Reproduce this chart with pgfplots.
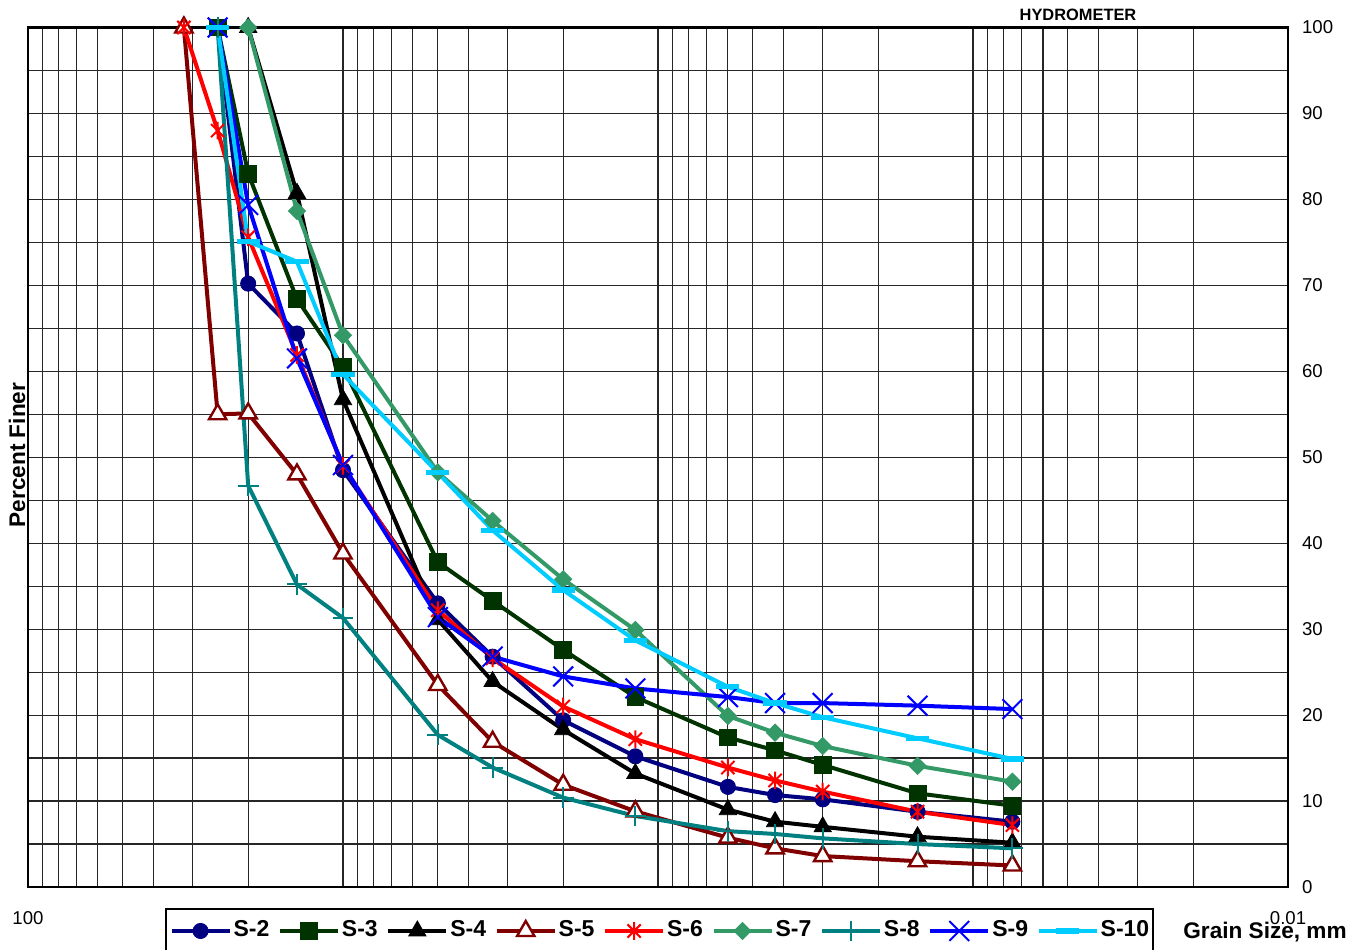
\documentclass[border=0pt]{standalone}
\usepackage{fontspec}
\setmainfont{Liberation Sans}
\usepackage{pgfplots}
\pgfplotsset{compat=1.18}
\definecolor{cA}{HTML}{000080}
\definecolor{cB}{HTML}{003300}
\definecolor{cC}{HTML}{000000}
\definecolor{cD}{HTML}{800000}
\definecolor{cE}{HTML}{FF0000}
\definecolor{cF}{HTML}{339966}
\definecolor{cG}{HTML}{008080}
\definecolor{cH}{HTML}{0000FF}
\definecolor{cI}{HTML}{00CCFF}
\pgfdeclareplotmark{xbar}{%
  \pgfpathmoveto{\pgfqpoint{-.75\pgfplotmarksize}{-.75\pgfplotmarksize}}%
  \pgfpathlineto{\pgfqpoint{.75\pgfplotmarksize}{.75\pgfplotmarksize}}%
  \pgfpathmoveto{\pgfqpoint{-.75\pgfplotmarksize}{.75\pgfplotmarksize}}%
  \pgfpathlineto{\pgfqpoint{.75\pgfplotmarksize}{-.75\pgfplotmarksize}}%
  \pgfpathmoveto{\pgfqpoint{0pt}{-\pgfplotmarksize}}%
  \pgfpathlineto{\pgfqpoint{0pt}{\pgfplotmarksize}}%
  \pgfusepathqstroke}
\pgfdeclareplotmark{sqdiamond*}{%
  \pgfpathmoveto{\pgfqpoint{0pt}{\pgfplotmarksize}}%
  \pgfpathlineto{\pgfqpoint{\pgfplotmarksize}{0pt}}%
  \pgfpathlineto{\pgfqpoint{0pt}{-\pgfplotmarksize}}%
  \pgfpathlineto{\pgfqpoint{-\pgfplotmarksize}{0pt}}%
  \pgfpathclose
  \pgfusepathqfillstroke}
\begin{document}
\begin{tikzpicture}
\begin{axis}[
  at={(14pt,31pt)}, anchor=south west,
  scale only axis, width=630pt, height=429.75pt,
  xmode=log, x dir=reverse, xmin=0.01, xmax=100,
  ymin=0, ymax=100, clip=false,
  xtick={0.01,0.1,1,10,100},
  xticklabels={0.01,{},{},{},100},
  minor xtick={0.02,0.03,0.04,0.05,0.06,0.07,0.08,0.09,0.2,0.3,0.4,0.5,0.6,0.7,0.8,0.9,2,3,4,5,6,7,8,9,20,30,40,50,60,70,80,90},
  ytick={0,10,...,100},
  minor ytick={5,15,...,95},
  grid=both,
  major grid style={black!85, line width=0.6pt},
  minor grid style={black!85, line width=0.6pt},
  major tick length=0pt, minor tick length=0pt,
  axis line style={line width=1.1pt},
  yticklabel pos=right,
  /pgf/number format/assume math mode=true,
  tick label style={font=\fontsize{9.3}{11}\selectfont},
  yticklabel style={anchor=west, xshift=3.5pt},
  xticklabel style={anchor=center, yshift=-15.5pt},
  legend columns=-1,
  legend style={at={(0.1087,-0.0244)}, anchor=north west, draw=black, line width=1pt,
    inner xsep=1.8pt, inner ysep=5.5pt,
    font=\fontsize{11.5}{13}\selectfont\bfseries,
    nodes={inner sep=0pt, text height=8.5pt, text depth=2.5pt},
    /tikz/every odd column/.style={column sep=1pt},
    /tikz/every even column/.style={column sep=4.3pt}},
  legend image code/.code={%
    \draw[mark repeat=2,mark phase=2,#1] plot coordinates {(0pt,0pt) (14.5pt,0pt) (29pt,0pt)};},
]
\addplot[color=cA, line width=2pt, mark=*, mark size=3.8pt, mark options={solid, line width=0.4pt}] coordinates {
(25,100)(20,70.2)(14,64.4)(10,48.5)(5,33.0)(3.35,26.8)(2,19.4)(1.18,15.2)(0.6,11.65)(0.425,10.7)(0.3,10.2)(0.15,8.76)(0.075,7.6)};
\addplot[color=cB, line width=2pt, mark=square*, mark size=4.2pt, mark options={solid, line width=0.4pt}] coordinates {
(25,100)(20,83)(14,68.4)(10,60.5)(5,37.8)(3.35,33.3)(2,27.6)(1.18,22.1)(0.6,17.4)(0.425,15.9)(0.3,14.2)(0.15,10.9)(0.075,9.46)};
\addplot[color=cC, line width=2pt, mark=triangle*, mark size=5pt, mark options={solid, line width=0.4pt}] coordinates {
(20,100)(14,80.7)(10,56.7)(5,31.1)(3.35,23.9)(2,18.3)(1.18,13.2)(0.6,9.0)(0.425,7.6)(0.3,7.0)(0.15,5.85)(0.075,5.15)};
\addplot[color=cD, line width=2pt, mark=triangle*, mark size=5pt, mark options={solid, fill=white, draw=cD, line width=1.2pt}] coordinates {
(32,100)(25,55)(20,55.1)(14,48)(10,38.8)(5,23.5)(3.35,16.9)(2,11.9)(1.18,8.8)(0.6,5.74)(0.425,4.5)(0.3,3.6)(0.15,3.0)(0.075,2.5)};
\addplot[color=cE, line width=2pt, mark=xbar, mark size=4.4pt, mark options={solid, line width=1pt}] coordinates {
(32,100)(25,88)(20,75.6)(14,61.9)(10,49)(5,32.2)(3.35,26.6)(2,21)(1.18,17.2)(0.6,13.9)(0.425,12.4)(0.3,11.1)(0.15,8.76)(0.075,7.2)};
\addplot[color=cF, line width=2pt, mark=sqdiamond*, mark size=4.3pt, mark options={solid, line width=0.4pt}] coordinates {
(20,100)(14,78.65)(10,64.2)(5,48.25)(3.35,42.6)(2,35.8)(1.18,29.9)(0.6,19.9)(0.425,17.95)(0.3,16.4)(0.15,14.1)(0.075,12.25)};
\addplot[color=cG, line width=2pt, mark=+, mark size=5.2pt, mark options={solid, line width=1pt}] coordinates {
(25,100)(20,46.7)(14,35.2)(10,31.3)(5,17.7)(3.35,13.9)(2,10.4)(1.18,8.26)(0.6,6.5)(0.425,6.17)(0.3,5.66)(0.15,5.0)(0.075,4.5)};
\addplot[color=cH, line width=2pt, mark=x, mark size=7pt, mark options={solid, line width=1pt}] coordinates {
(25,100)(20,79.35)(14,61.5)(10,49.1)(5,31.4)(3.35,26.8)(2,24.5)(1.18,23.1)(0.6,22.1)(0.425,21.4)(0.3,21.4)(0.15,21.1)(0.075,20.7)};
\addplot[color=cI, line width=2pt, mark=-, mark size=5.8pt, mark options={solid, line width=2.6pt}] coordinates {
(25,100)(20,75.1)(14,72.75)(10,59.65)(5,48.2)(3.35,41.5)(2,34.55)(1.18,28.7)(0.6,23.3)(0.425,21.4)(0.3,19.75)(0.15,17.3)(0.075,14.9)};
\legend{S-2,S-3,S-4,S-5,S-6,S-7,S-8,S-9,S-10}
\end{axis}
\node[font=\bfseries\fontsize{8.2}{10}\selectfont] at (539pt,467pt) {HYDROMETER};
\node[rotate=90, font=\bfseries\fontsize{11.3}{13}\selectfont] at (8.5pt,247pt) {Percent Finer};
\node[anchor=base, inner sep=0pt, font=\bfseries\fontsize{11.3}{13}\selectfont] at (632.5pt,5.5pt) {Grain Size, mm};
\pgfresetboundingbox
\path[use as bounding box] (0,0) rectangle (681.5pt,474.5pt);
\end{tikzpicture}
\end{document}
